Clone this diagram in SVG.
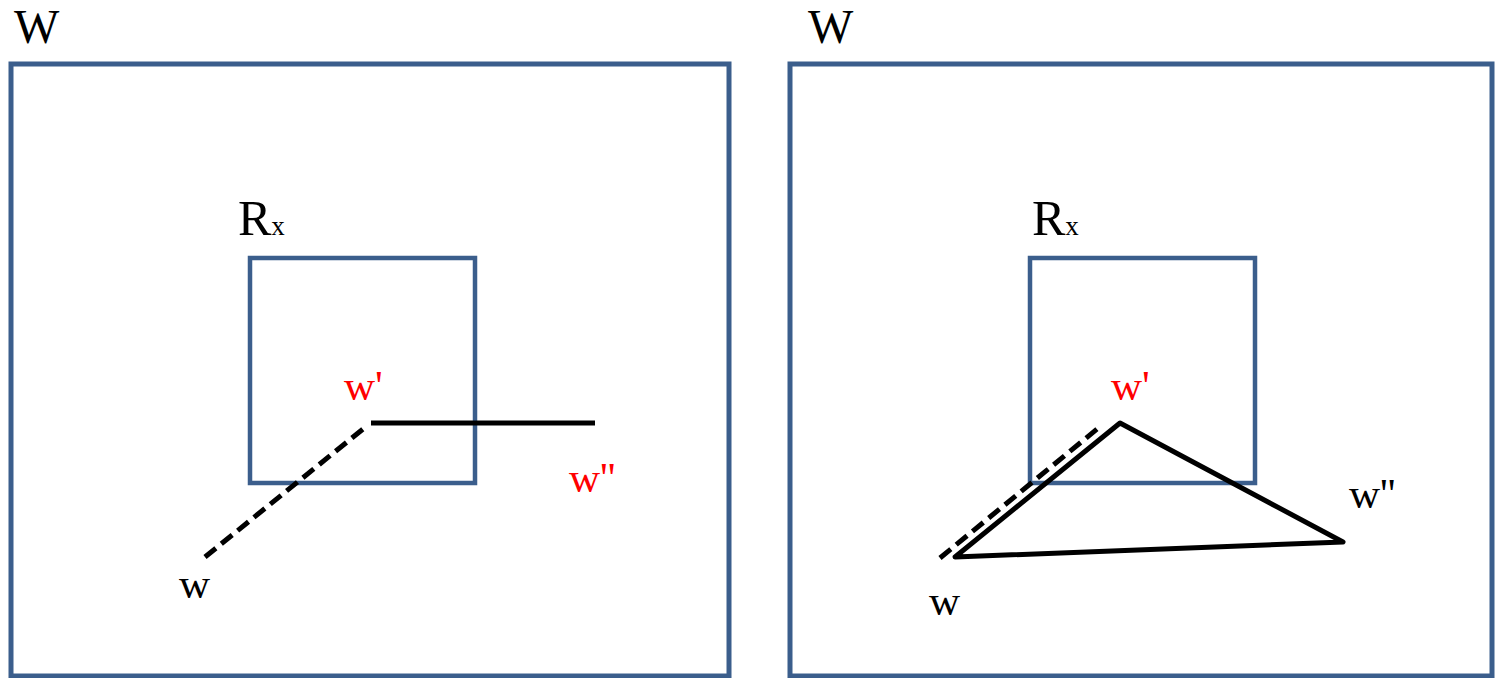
<svg xmlns="http://www.w3.org/2000/svg" width="1495" height="678" viewBox="0 0 1495 678">
<style>
.box{fill:none;stroke:#3b5e8c;stroke-width:5}
.ibox{fill:none;stroke:#3b5e8c;stroke-width:4.5}
.ln{fill:none;stroke:#000;stroke-width:5;stroke-linejoin:round}
.dash{fill:none;stroke:#000;stroke-width:5;stroke-dasharray:14,7}
.t{font-family:'Liberation Serif','Times New Roman',serif}
.big{font-size:50px;fill:#000}
.top{font-size:48px;fill:#000}
.lbl{font-size:43px}
.red{fill:#ff0000}
.blk{fill:#000}
</style>
<g id="left-panel">
  <rect class="box" x="11" y="64" width="718" height="612"/>
  <text class="t top" x="14" y="43" font-family="Liberation Serif, serif">W</text>
</g>
<g id="left-Rx">
  <rect class="ibox" x="250" y="258" width="225" height="225"/>
  <text class="t big" x="238" y="235" font-family="Liberation Serif, serif">R<tspan font-size="27">x</tspan></text>
</g>
<g id="left-labels">
  <text class="t lbl red" x="344" y="400" font-family="Liberation Serif, serif">w'</text>
  <text class="t lbl red" x="569" y="492" font-family="Liberation Serif, serif">w''</text>
  <text class="t lbl blk" x="179" y="598" font-family="Liberation Serif, serif">w</text>
</g>
<g id="right-panel">
  <rect class="box" x="790" y="64" width="702" height="612"/>
  <text class="t top" x="808" y="43" font-family="Liberation Serif, serif">W</text>
</g>
<g id="right-Rx">
  <rect class="ibox" x="1030" y="258" width="225" height="225"/>
  <text class="t big" x="1032" y="235" font-family="Liberation Serif, serif">R<tspan font-size="27">x</tspan></text>
</g>
<g id="right-labels">
  <text class="t lbl red" x="1111" y="400" font-family="Liberation Serif, serif">w'</text>
  <text class="t lbl blk" x="1349" y="508" font-family="Liberation Serif, serif">w''</text>
  <text class="t lbl blk" x="929" y="615" font-family="Liberation Serif, serif">w</text>
</g>
<g id="connectors">
  <line class="dash" x1="205" y1="557" x2="368" y2="425"/>
  <line class="ln" x1="371" y1="423" x2="595" y2="423"/>
  <line class="dash" x1="940" y1="558" x2="1102" y2="425"/>
  <polygon class="ln" points="955,557 1120,423 1343,542"/>
</g>
</svg>
